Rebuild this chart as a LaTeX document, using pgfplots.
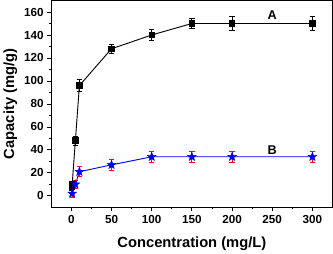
\documentclass[border=0pt]{standalone}
\usepackage{pgfplots}
\pgfplotsset{compat=1.18}
\usepackage{fontspec}
\setmainfont{Liberation Sans}
\pgfdeclareplotmark{fstar}{%
  \pgfpathmoveto{\pgfpointpolar{90}{\pgfplotmarksize}}%
  \pgfpathlineto{\pgfpointpolar{126}{0.42\pgfplotmarksize}}%
  \pgfpathlineto{\pgfpointpolar{162}{\pgfplotmarksize}}%
  \pgfpathlineto{\pgfpointpolar{198}{0.42\pgfplotmarksize}}%
  \pgfpathlineto{\pgfpointpolar{234}{\pgfplotmarksize}}%
  \pgfpathlineto{\pgfpointpolar{270}{0.42\pgfplotmarksize}}%
  \pgfpathlineto{\pgfpointpolar{306}{\pgfplotmarksize}}%
  \pgfpathlineto{\pgfpointpolar{342}{0.42\pgfplotmarksize}}%
  \pgfpathlineto{\pgfpointpolar{18}{\pgfplotmarksize}}%
  \pgfpathlineto{\pgfpointpolar{54}{0.42\pgfplotmarksize}}%
  \pgfpathclose
  \pgfusepathqfillstroke}
\begin{document}
\begin{tikzpicture}
\begin{axis}[
  scale only axis,
  width=276bp, height=203bp,
  xmin=-25, xmax=325, ymin=-10, ymax=170,
  xtick={0,50,100,150,200,250,300},
  ytick={0,20,40,60,80,100,120,140,160},
  minor x tick num=1, minor y tick num=1,
  xtick pos=left, ytick pos=left,
  tick align=outside,
  major tick length=4bp, minor tick length=2bp,
  axis line style={line width=1pt},
  every tick/.style={line width=0.8pt, black},
  ticklabel style={font=\bfseries\fontsize{11.5}{11.5}\selectfont},
  /pgf/number format/assume math mode=true,
  xlabel={\bfseries Concentration (mg/L)},
  ylabel={\bfseries Capacity (mg/g)},
  label style={font=\bfseries\fontsize{14.5}{14.5}\selectfont},
  xlabel style={yshift=-6bp},
  ylabel style={yshift=0bp},
  clip=false,
]
\addplot[black, line width=0.9pt, mark=square*, mark size=2.7bp,
  error bars/.cd, y dir=both, y explicit, error bar style={black, line width=0.8pt}, error mark options={rotate=90, mark size=2.6bp, line width=0.8pt}]
  coordinates {
  (0.5,8) +- (0,3)
  (1,10) +- (0,3)
  (5,48) +- (0,4)
  (10,96) +- (0,5)
  (50,128) +- (0,4)
  (100,140) +- (0,5)
  (150,150) +- (0,4)
  (200,150) +- (0,6)
  (300,150) +- (0,6)
  };
\addplot[blue, line width=0.9pt, mark=fstar, mark options={fill=blue, line width=0.4pt}, mark size=4.5bp,
  error bars/.cd, y dir=both, y explicit, error bar style={red, line width=0.8pt}, error mark options={rotate=90, red, mark size=2.6bp, line width=0.8pt}]
  coordinates {
  (1,2) +- (0,3.5)
  (5,10) +- (0,3.5)
  (10,21) +- (0,4.5)
  (50,27) +- (0,4.5)
  (100,34) +- (0,4.5)
  (150,34) +- (0,4.5)
  (200,34) +- (0,5)
  (300,34) +- (0,5)
  };
\node[font=\bfseries\fontsize{12.5}{12.5}\selectfont] at (axis cs:250,157) {A};
\node[font=\bfseries\fontsize{12.5}{12.5}\selectfont] at (axis cs:250,40) {B};
\end{axis}
\end{tikzpicture}
\end{document}
